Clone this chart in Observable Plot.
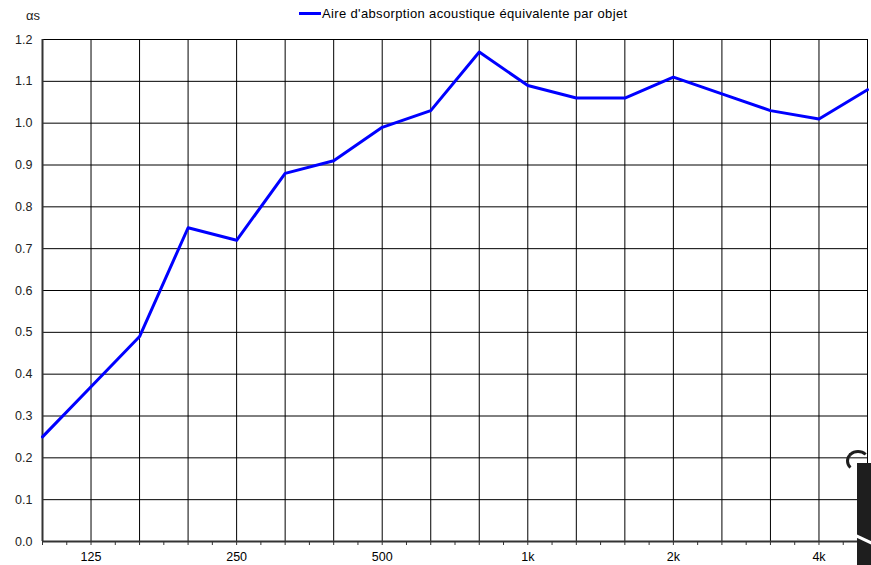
<!DOCTYPE html>
<html>
<head>
<meta charset="utf-8">
<script src="https://cdn.jsdelivr.net/npm/d3@7"></script>
<script src="https://cdn.jsdelivr.net/npm/@observablehq/plot@0.6"></script>
<style>
  body { margin: 0; background: #fff; font-family: "Liberation Sans", Arial, sans-serif; }
  #wrap { position: relative; width: 871px; height: 565px; overflow: hidden; }
  #ylab { position: absolute; left: 26px; top: 8px; font-size: 13px; color: #222; }
  #legend { position: absolute; left: 299px; top: 6px; font-size: 13px; letter-spacing: 0.35px; color: #000; display: flex; align-items: center; white-space: nowrap; }
  #legend .sw { width: 22px; height: 3px; background: #0000ff; margin-right: 1px; }
  #deco { position: absolute; left: 857px; top: 463px; width: 20px; height: 110px; background: #1e1e1e; }
  #deco2 { position: absolute; left: 846px; top: 450px; width: 18px; height: 16px; border: 3px solid #1e1e1e; border-radius: 50%; border-right-color: transparent; border-bottom-color: transparent; }
  #deco3 { position: absolute; left: 852px; top: 538px; width: 24px; height: 3px; background: #fff; transform: rotate(25deg); }
</style>
</head>
<body>
<div id="wrap">
  <div id="ylab">αs</div>
  <div id="legend"><span class="sw"></span><span>Aire d'absorption acoustique équivalente par objet</span></div>
</div>
<script>
const bands = ["100","125","160","200","250","315","400","500","630","800","1k","1.25k","1.6k","2k","2.5k","3.15k","4k","5k"];
const values = [0.25,0.37,0.49,0.75,0.72,0.88,0.91,0.99,1.03,1.17,1.09,1.06,1.06,1.11,1.07,1.03,1.01,1.08];
const xTickLabels = ["125","250","500","1k","2k","4k"];
const yTicks = [0,0.1,0.2,0.3,0.4,0.5,0.6,0.7,0.8,0.9,1.0,1.1,1.2];

const data = bands.map((b, i) => ({band: b, i, value: values[i]}));
const idx = d3.range(bands.length);
const minorTicks = d3.range(0, bands.length - 0.99, 0.5);

const chart = Plot.plot({
  width: 871,
  height: 565,
  marginLeft: 42,
  marginRight: 4,
  marginTop: 39,
  marginBottom: 24,
  style: {fontFamily: "'Liberation Sans', Arial, sans-serif", fontSize: "12.5px", color: "#222", background: "#fff"},
  x: {type: "linear", domain: [0, bands.length - 1]},
  y: {domain: [0, 1.2]},
  marks: [
    Plot.ruleX(idx, {stroke: "#000", strokeWidth: 1}),
    Plot.ruleY(yTicks, {stroke: "#000", strokeWidth: 1}),
    Plot.frame({stroke: "#000", strokeWidth: 1}),
    Plot.ruleX([0], {stroke: "#333", strokeWidth: 2}),
    Plot.ruleY([0], {stroke: "#333", strokeWidth: 2}),
    Plot.axisX({
      ticks: minorTicks,
      tickSize: 4,
      tickPadding: 7,
      tickFormat: t => {
        const b = bands[t];
        return (Number.isInteger(t) && xTickLabels.includes(b)) ? b : "";
      },
      label: null,
      stroke: "#333",
      fill: "#000"
    }),
    Plot.axisY({
      ticks: yTicks,
      tickSize: 0,
      tickPadding: 10,
      tickFormat: d3.format(".1f"),
      label: null,
      fill: "#222"
    }),
    Plot.line(data, {x: "i", y: "value", stroke: "#0000ff", strokeWidth: 3})
  ]
});
document.getElementById("wrap").prepend(chart);
chart.style.position = "absolute";
chart.style.left = "0";
chart.style.top = "0";
const wrap = document.getElementById("wrap");
for (const id of ["deco", "deco2", "deco3"]) {
  const d = document.createElement("div");
  d.id = id;
  wrap.appendChild(d);
}
</script>
</body>
</html>
